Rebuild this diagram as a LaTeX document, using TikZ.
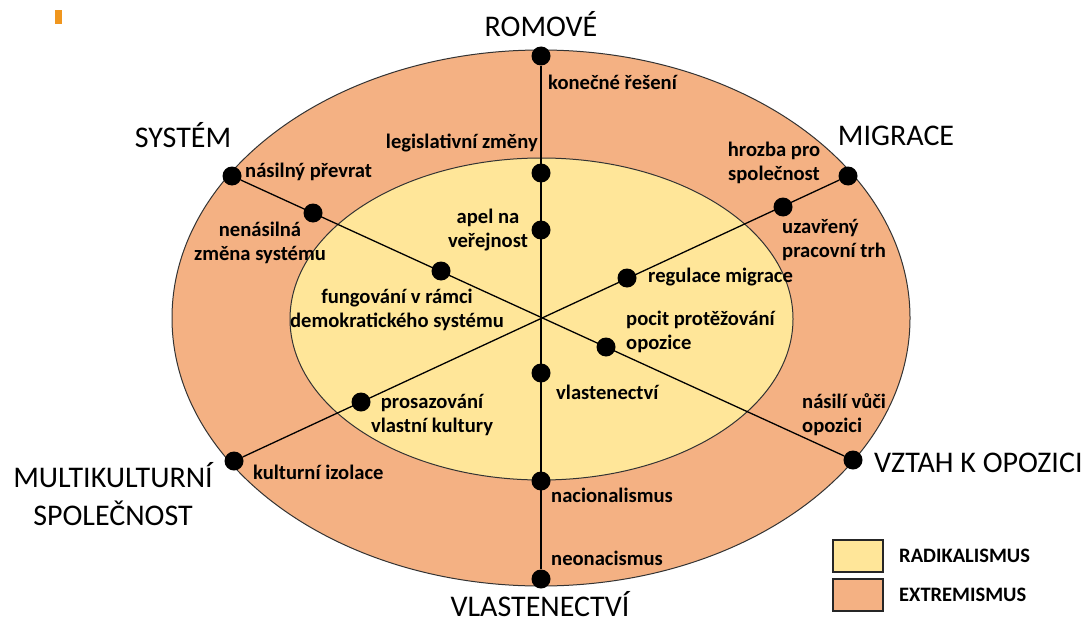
\documentclass[tikz,border=0pt]{standalone}
\usepackage{fontspec}
\setmainfont{Carlito}
\definecolor{extr}{HTML}{F4B183}
\definecolor{radi}{HTML}{FFE699}
\definecolor{markorange}{HTML}{F0961E}
\begin{document}
\begin{tikzpicture}[x=1pt,y=-1pt,
  dot/.style={circle,fill=black,inner sep=0pt,minimum size=19pt},
  lab/.style={font=\fontsize{20.6}{24}\selectfont\bfseries,inner sep=0pt},
  axislab/.style={font=\fontsize{30}{38}\selectfont,inner sep=0pt},
  conn/.style={line width=1.3pt},
  legbox/.style={draw=black!85,line width=1.2pt,minimum width=50pt,minimum height=32pt,inner sep=0pt},
  legtxt/.style={font=\fontsize{20.5}{24}\selectfont\bfseries,inner sep=0pt,anchor=west}]
\useasboundingbox (0,0) rectangle (1091,623);
\fill[white] (0,0) rectangle (1091,623);
\fill[markorange] (55,10) rectangle (62,24);
% rings
\draw[fill=extr,draw=black!80,line width=1pt] (541,318) ellipse [x radius=369pt, y radius=268pt];
\draw[fill=radi,draw=black!80,line width=1pt] (541.5,319) ellipse [x radius=251.5pt, y radius=161pt];
% dots
\node[dot] (r1) at (541,56) {};
\node[dot] (r2) at (541,173) {};
\node[dot] (r3) at (541,230) {};
\node[dot] (v1) at (541,373) {};
\node[dot] (v2) at (541,481) {};
\node[dot] (v3) at (541,579) {};
\node[dot] (s1) at (232,176) {};
\node[dot] (s2) at (313,213) {};
\node[dot] (s3) at (441,271) {};
\node[dot] (o1) at (606,347) {};
\node[dot] (o2) at (853,460) {};
\node[dot] (m1) at (848,176) {};
\node[dot] (m2) at (783,207) {};
\node[dot] (m3) at (627,278) {};
\node[dot] (k1) at (361,402) {};
\node[dot] (k2) at (234,461) {};
% axes
\draw[conn] (r1) -- (v3);
\draw[conn] (s1) -- (o2);
\draw[conn] (k2) -- (m1);
% axis titles
\node[axislab,anchor=base] (tR) at (541,37) {ROMOVÉ};
\node[axislab,anchor=base] (tS) at (183,147) {SYSTÉM};
\node[axislab,anchor=base] (tM) at (896,146) {MIGRACE};
\node[axislab,anchor=base west] (tO) at (874,472) {VZTAH K OPOZICI};
\node[axislab,align=center] (tK) at (113,494) {MULTIKULTURNÍ\\SPOLEČNOST};
\node[axislab,anchor=base] (tV) at (540,616) {VLASTENECTVÍ};
% labels
\node[lab,anchor=west] (l1) at (548,82) {konečné řešení};
\node[lab,anchor=east] (l2) at (538,143) {legislativní změny};
\node[lab,align=center] (l3) at (488,230) {apel na\\veřejnost};
\node[lab,anchor=west] (l4) at (556,392) {vlastenectví};
\node[lab,anchor=west] (l5) at (551,495) {nacionalismus};
\node[lab,anchor=west] (l6) at (551,558) {neonacismus};
\node[lab,anchor=west] (l7) at (245,172) {násilný převrat};
\node[lab,align=center] (l8) at (260,243) {nenásilná\\změna systému};
\node[lab,align=center] (l9) at (397,310) {fungování v rámci\\demokratického systému};
\node[lab,anchor=west,align=left] (l10) at (626,332) {pocit protěžování\\opozice};
\node[lab,anchor=west,align=left] (l11) at (802,415) {násilí vůči\\opozici};
\node[lab,align=center] (l12) at (774,163) {hrozba pro\\společnost};
\node[lab,anchor=west,align=left] (l13) at (782,240) {uzavřený\\pracovní trh};
\node[lab,anchor=west] (l14) at (648,277) {regulace migrace};
\node[lab,align=center] (l15) at (432,415) {prosazování\\vlastní kultury};
\node[lab,anchor=west] (l16) at (253,472) {kulturní izolace};
% legend
\node[legbox,fill=radi] (lr) at (858,556) {};
\node[legbox,fill=extr] (le) at (858,595) {};
\node[legtxt] (lrt) at (899,556) {RADIKALISMUS};
\node[legtxt] (let) at (899,595) {EXTREMISMUS};
\end{tikzpicture}
\end{document}
